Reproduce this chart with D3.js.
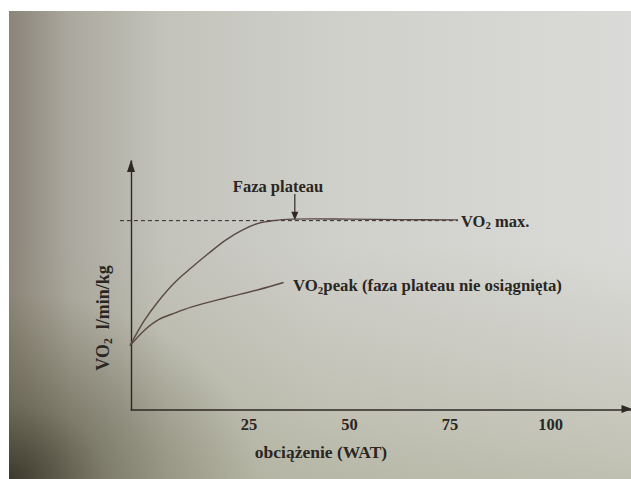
<!DOCTYPE html>
<html>
<head>
<meta charset="utf-8">
<script src="https://cdn.jsdelivr.net/npm/d3@7"></script>
<style>
  html, body { margin: 0; padding: 0; background: #ffffff; }
  svg { display: block; }
  text { font-family: "Liberation Serif", "Times New Roman", "DejaVu Serif", serif; font-weight: bold; fill: #2a2622; }
</style>
</head>
<body>
<svg id="chart" width="631" height="479"></svg>
<script>
// ---- data (x in W, y in arbitrary VO2 units) ----
const xTickValues = [25, 50, 75, 100];
const vo2maxX = [-4.5, -1, 2.6, 6.7, 10.9, 15, 19.2, 23.3, 27.4, 31.6, 35.7, 50, 62.7, 77.1];
const vo2maxY = [25.6, 35.5, 43.5, 51.0, 57.0, 62.5, 67.8, 71.8, 74.6, 75.8, 76.3, 76.3, 76.1, 76];
const vo2peakX = [-4.5, -0.75, 2.6, 6.7, 10.9, 19.2, 27.4, 33.7];
const vo2peakY = [25.6, 32, 36, 38.7, 41.1, 44.7, 48, 50.9];
const plateauLevel = 75.7;          // dashed VO2 max level
const plateauRange = [-7, 77.1];
const plateauArrowX = 36.5;
const labels = {
  plateau: "Faza plateau",
  vo2max: ["VO", "2", " max."],
  vo2peak: ["VO", "2", "peak (faza plateau nie osiągnięta)"],
  xTitle: "obciążenie (WAT)",
  yTitle: ["VO", "2", "  l/min/kg"]
};

const svg = d3.select("#chart");
const W = 631, H = 479;

// ---- photo-like paper background ----
const defs = svg.append("defs");
const g1 = defs.append("linearGradient").attr("id", "paperH").attr("x1", 0).attr("x2", 1).attr("y1", 0).attr("y2", 0);
[[0, "#8a8578"], [0.03, "#948f84"], [0.1, "#aba99f"], [0.25, "#c3c3bb"], [0.5, "#cfcfca"], [1, "#dadad8"]]
  .forEach(([o, c]) => g1.append("stop").attr("offset", o).attr("stop-color", c));
const g4 = defs.append("linearGradient").attr("id", "bottomTint").attr("x1", 0).attr("x2", 0).attr("y1", 0).attr("y2", 1);
[[0, "#8c8c60", 0], [0.5, "#8c8c60", 0], [1, "#7c7c50", 0.28]]
  .forEach(([o, c, a]) => g4.append("stop").attr("offset", o).attr("stop-color", c).attr("stop-opacity", a));
const g2 = defs.append("radialGradient").attr("id", "darkBL").attr("cx", 0).attr("cy", 1).attr("r", 0.4);
[[0, "#2a261c", 0.8], [0.4, "#3a3628", 0.35], [1, "#4a4632", 0]]
  .forEach(([o, c, a]) => g2.append("stop").attr("offset", o).attr("stop-color", c).attr("stop-opacity", a));

const paper = { x: 9, y: 11, w: W - 9, h: H - 11 };
["paperH", "bottomTint", "darkBL"].forEach(id =>
  svg.append("rect").attr("x", paper.x).attr("y", paper.y).attr("width", paper.w).attr("height", paper.h)
    .attr("fill", `url(#${id})`));

// ---- scales ----
const x = d3.scaleLinear().domain([-4.5, 120]).range([130, 630.5]);
const y = d3.scaleLinear().domain([0, 100]).range([409.5, 160]);
const ink = "#2e2824";
const curveInk = "#5a4844";

// ---- axes ----
const xAxis = d3.axisBottom(x).tickValues(xTickValues).tickSize(0).tickPadding(9).tickFormat(d3.format("d"));
const gx = svg.append("g").attr("transform", `translate(0,${y(0)})`).call(xAxis);
gx.select(".domain").attr("stroke", ink).attr("stroke-width", 1.4);
gx.selectAll(".tick text").attr("font-size", 16.5).attr("fill", "#2a2622");

const yAxis = d3.axisLeft(y).tickValues([]).tickSize(0).tickSizeOuter(0);
const gy = svg.append("g").attr("transform", `translate(${x(-4.5) + 1},0)`).call(yAxis);
gy.select(".domain").attr("stroke", ink).attr("stroke-width", 1.4);

// arrow heads
const yTop = y.range()[1], xEnd = x.range()[1];
const ax = x(-4.5) + 1;
svg.append("path").attr("d", `M${ax},${yTop} L${ax - 4},${yTop + 12} L${ax + 4},${yTop + 12} Z`).attr("fill", ink);
svg.append("path").attr("d", `M${xEnd + 2},${y(0) - 0.5} L${xEnd - 9},${y(0) - 4.5} L${xEnd - 9},${y(0) + 3.5} Z`).attr("fill", ink);

// ---- dashed VO2 max level ----
svg.append("line")
  .attr("x1", x(plateauRange[0])).attr("x2", x(plateauRange[1]))
  .attr("y1", y(plateauLevel)).attr("y2", y(plateauLevel))
  .attr("stroke", ink).attr("stroke-width", 1).attr("stroke-dasharray", "4,3");

// ---- curves ----
const line = d3.line().x(d => x(d[0])).y(d => y(d[1])).curve(d3.curveCatmullRom.alpha(0.5));
svg.append("path").datum(d3.zip(vo2maxX, vo2maxY)).attr("d", line)
  .attr("fill", "none").attr("stroke", curveInk).attr("stroke-width", 1.4);
svg.append("path").datum(d3.zip(vo2peakX, vo2peakY)).attr("d", line)
  .attr("fill", "none").attr("stroke", curveInk).attr("stroke-width", 1.4);

// ---- plateau arrow ----
const axp = x(plateauArrowX);
svg.append("line").attr("x1", axp).attr("x2", axp).attr("y1", 194).attr("y2", 212)
  .attr("stroke", ink).attr("stroke-width", 1.2);
svg.append("path").attr("d", `M${axp},${y(plateauLevel) - 0.5} L${axp - 3.5},${y(plateauLevel) - 9} L${axp + 3.5},${y(plateauLevel) - 9} Z`).attr("fill", ink);

// ---- labels ----
function subText(sel, parts, size) {
  sel.append("tspan").text(parts[0]);
  sel.append("tspan").attr("font-size", size * 0.65).attr("dy", size * 0.18).text(parts[1]);
  sel.append("tspan").attr("dy", -size * 0.18).text(parts[2]);
}

svg.append("text").attr("x", 278).attr("y", 191.5).attr("text-anchor", "middle")
  .attr("font-size", 16.5).text(labels.plateau);

subText(svg.append("text").attr("x", x(77.1) + 3).attr("y", 226.5).attr("font-size", 16.5), labels.vo2max, 16.5);
subText(svg.append("text").attr("x", 293).attr("y", 290.5).attr("font-size", 16.8), labels.vo2peak, 16.8);

svg.append("text").attr("x", 321).attr("y", 458).attr("text-anchor", "middle")
  .attr("font-size", 17.5).text(labels.xTitle);

subText(svg.append("text").attr("transform", "translate(109,318) rotate(-90)").attr("text-anchor", "middle")
  .attr("font-size", 18).style("white-space", "pre"), labels.yTitle, 18);
</script>
</body>
</html>
